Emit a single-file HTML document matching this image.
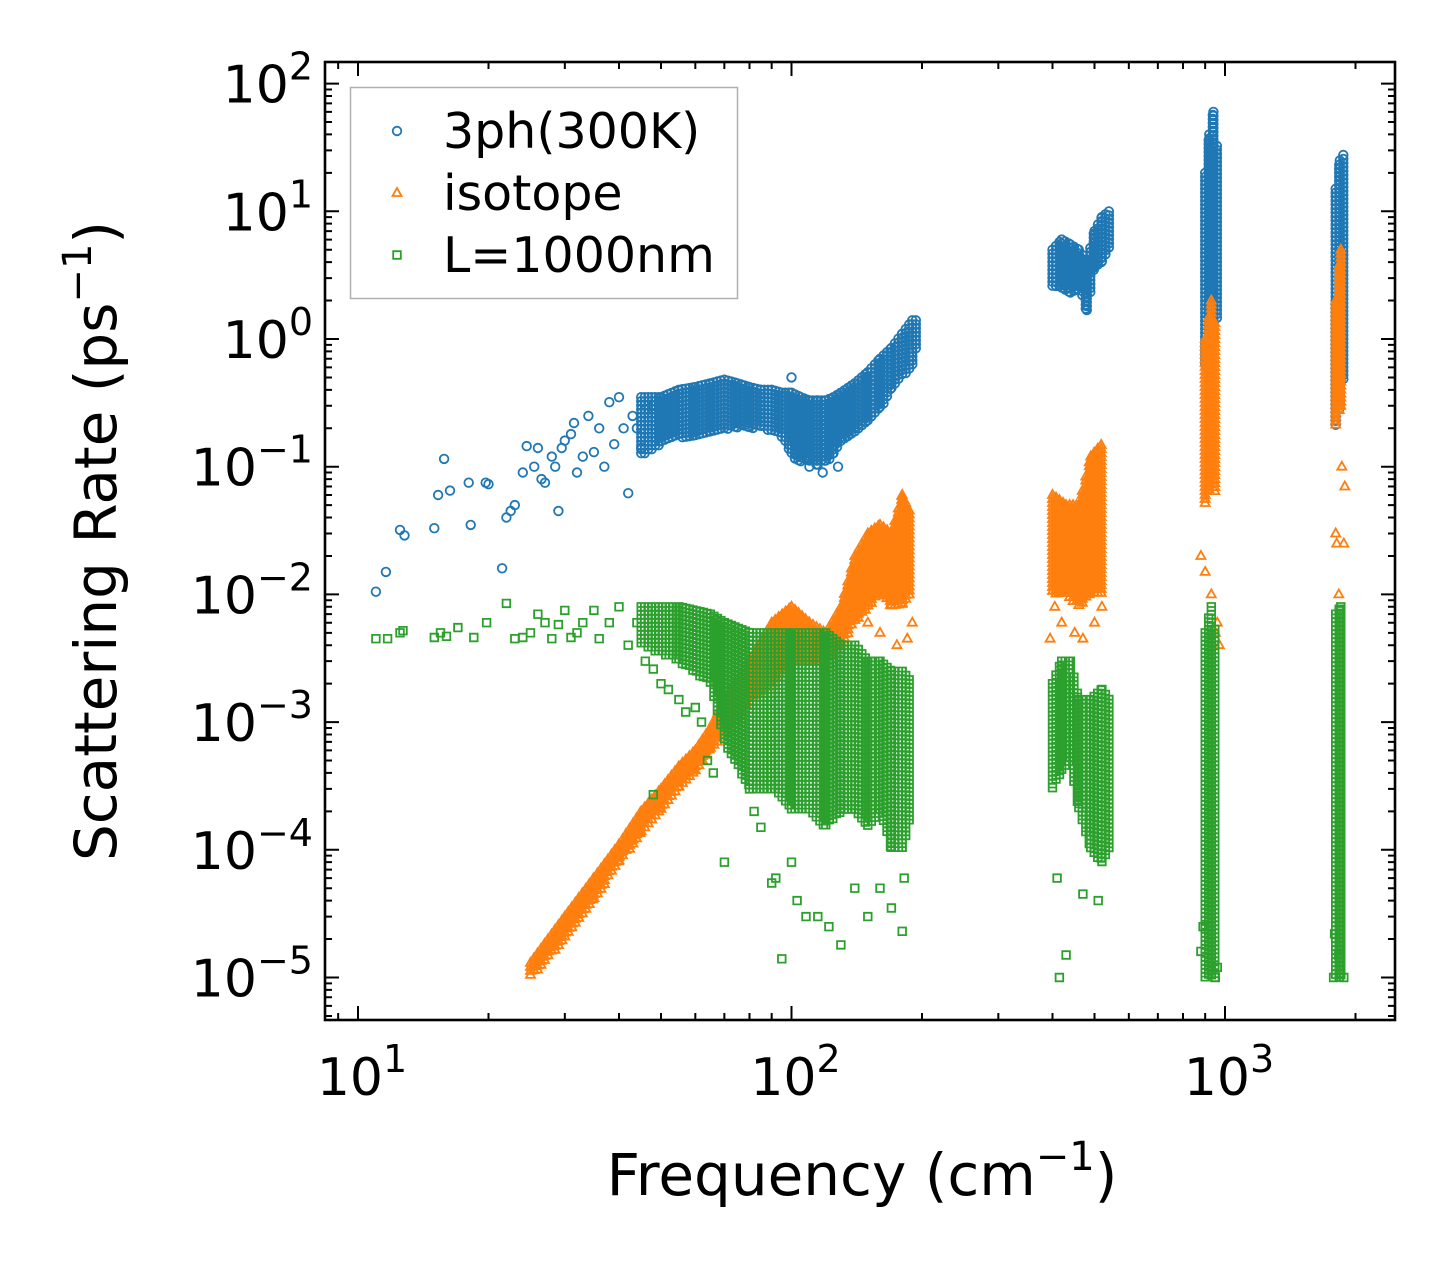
<!DOCTYPE html>
<html><head><meta charset="utf-8"><style>
html,body{margin:0;padding:0;background:#fff}
svg{display:block;font-family:"DejaVu Sans","Liberation Sans",sans-serif}
</style></head><body>
<svg id="chart" width="1455" height="1268" viewBox="0 0 1455 1268">
<rect x="0" y="0" width="1455" height="1268" fill="#fff"/>
<g id="marks"></g>
<g id="axes"></g>
</svg>
<script>
// ---- data ----
const blueFreq = [11,11.6,12.5,12.8,15,15.3,15.8,16.3,18,18.2,19.7,20,21.5,22,22.5,23,24,24.5,25.5,26,26.5,27,28,28.5,29,29.5,30,31,31.5,32,33,34,35,36,37,38,39,40,41,42,43,44,45,46,48,100,110,118,128];
const blueRate = [0.0105,0.015,0.032,0.029,0.033,0.06,0.115,0.065,0.075,0.035,0.075,0.073,0.016,0.04,0.045,0.05,0.09,0.145,0.1,0.14,0.08,0.075,0.12,0.1,0.045,0.14,0.16,0.18,0.22,0.09,0.12,0.25,0.13,0.2,0.1,0.32,0.15,0.35,0.2,0.062,0.25,0.2,0.14,0.28,0.3,0.5,0.1,0.09,0.1];
const blueBandFreq = [45,50,55,60,65,70,75,80,85,90,95,100,105,110,115,120,125,130,140,150,160,170,180,190,195, 400,420,440,460,480,500,520,540, 900,920,940,960, 1800,1840,1880];
const blueBandLo = [0.12,0.15,0.17,0.17,0.18,0.19,0.2,0.2,0.2,0.19,0.17,0.12,0.11,0.11,0.1,0.11,0.12,0.15,0.18,0.22,0.28,0.4,0.5,0.6,0.9, 2.5,2.5,2.2,2.5,1.6,3.5,4,5, 0.6,0.7,1,1.5, 0.2,0.3,0.5];
const blueBandHi = [0.35,0.35,0.4,0.42,0.45,0.48,0.45,0.42,0.4,0.4,0.38,0.38,0.35,0.33,0.33,0.33,0.35,0.38,0.45,0.55,0.7,0.85,1.1,1.4,1.4, 5,6,5.5,5,4,7,9,10, 20,40,60,30, 15,25,28];
const blueBreak = [25,33,37];

const orangeFreq = [150,160,175,185,190,395,405,420,450,470,500,520,880,900,930,950,960,970,1800,1810,1830,1860,1880,1890];
const orangeRate = [0.006,0.005,0.004,0.0045,0.006,0.0045,0.008,0.006,0.005,0.0045,0.006,0.008,0.02,0.015,0.01,0.005,0.006,0.004,0.03,0.025,0.01,0.1,0.025,0.07];
const orangeBandFreq = [25,30,35,40,45,50,55,60,65,70,80,90,100,110,120,130,140,150,160,170,180,190, 400,430,460,490,520, 900,930,960, 1800,1850,1880];
const orangeBandLo = [1e-5,2e-5,4e-5,8e-5,1.3e-4,2e-4,3e-4,4e-4,6e-4,8e-4,1.5e-3,2e-3,3e-3,3e-3,3e-3,4e-3,6e-3,8e-3,0.01,0.008,0.008,0.01, 0.01,0.01,0.008,0.01,0.01, 0.05,0.08,0.05, 0.2,0.3,0.3];
const orangeBandHi = [1.3e-5,3e-5,6e-5,1.1e-4,2e-4,3e-4,4.5e-4,6e-4,9e-4,1.5e-3,3e-3,6e-3,8e-3,6e-3,5e-3,8e-3,0.02,0.03,0.035,0.03,0.06,0.04, 0.06,0.05,0.05,0.12,0.15, 1,2,1, 2,5,3];
const orangeBreak = [22,27,30];

const greenFreq = [11,11.7,12.5,12.7,15,15.5,16,17,18.5,19.8,22,23,24,25,26,27,28,29,30,31,32,33,35,36,38,40,42,44,46,48,50,52,55,57,60,62,64,66,48,80,82,85,90,92,95,100,103,108,115,122,130,140,150,160,170,180,182,70,410,415,430,470,510,880,890,950,960,1780,1790,1830,1880];
const greenRate = [0.0045,0.0045,0.005,0.0052,0.0046,0.005,0.0047,0.0055,0.0046,0.006,0.0085,0.0045,0.0046,0.005,0.007,0.006,0.0045,0.0058,0.0075,0.0046,0.005,0.006,0.0075,0.0045,0.006,0.008,0.004,0.006,0.003,0.0026,0.002,0.0018,0.0015,0.0012,0.0013,0.001,0.0005,0.0004,0.00027,0.0003,0.0002,0.00015,5.5e-5,6e-5,1.4e-5,8e-5,4e-5,3e-5,3e-5,2.5e-5,1.8e-5,5e-5,3e-5,5e-5,3.5e-5,2.3e-5,6e-5,8e-5,6e-5,1e-5,1.5e-5,4.5e-5,4e-5,1.6e-5,2.5e-5,1e-5,1.2e-5,1e-5,2.2e-5,1.5e-5,1e-5];
const greenBandFreq = [45,55,65,70,80,90,100,110,120,130,140,150,160,170,180,190, 400,420,440,460,490,520,540, 900,930,960, 1800,1850,1880];
const greenBandLo = [0.004,0.003,0.002,0.0007,0.0003,0.0003,0.0002,0.0002,0.00015,0.0002,0.0002,0.00015,0.0002,0.0001,0.0001,0.0002, 3e-4,4e-4,5e-4,2e-4,1e-4,8e-5,1e-4, 1e-5,1e-5,1e-5, 1e-5,1e-5,1e-5];
const greenBandHi = [0.008,0.008,0.007,0.006,0.005,0.005,0.005,0.005,0.005,0.004,0.004,0.003,0.003,0.0025,0.0025,0.002, 2e-3,3e-3,3e-3,1.5e-3,1.5e-3,1.8e-3,1.5e-3, 0.005,0.008,0.004, 0.007,0.008,0.006];
const greenBreak = [16,23,26];

const xTickVals = [10,100,1000];
const xTickExp = ["1","2","3"];
const yTickVals = [100,10,1,0.1,0.01,0.001,1e-4,1e-5];
const yTickExp = ["2","1","0","\u22121","\u22122","\u22123","\u22124","\u22125"];

// ---- axes geometry ----
const L=325,R=1395,T=62,B=1020;
const xs = f => 358 + 433.5*(Math.log10(f)-1);
const ys = v => 339 - 127.7*Math.log10(v);
const NS="http://www.w3.org/2000/svg";
const marks=document.getElementById('marks'), axes=document.getElementById('axes');
function mk(tag,attrs,parent){const e=document.createElementNS(NS,tag);for(const k in attrs)e.setAttribute(k,attrs[k]);parent.appendChild(e);return e;}

function circ(x,y){const r=4.3;return `M${(x-r).toFixed(1)},${y.toFixed(1)}a${r},${r} 0 1,0 ${2*r},0a${r},${r} 0 1,0 ${-2*r},0`;}
function tri(x,y){const s=5;return `M${x.toFixed(1)},${(y-s).toFixed(1)}L${(x+s*0.9).toFixed(1)},${(y+s*0.6).toFixed(1)}L${(x-s*0.9).toFixed(1)},${(y+s*0.6).toFixed(1)}Z`;}
function sq(x,y){const s=3.8;return `M${(x-s).toFixed(1)},${(y-s).toFixed(1)}h${2*s}v${2*s}h${-2*s}Z`;}

function series(name,color,shape,fq,rt,bf,blo,bhi,brk){
  let d="";
  for(let i=0;i<fq.length;i++) d+=shape(xs(fq[i]),ys(rt[i]));
  const starts=[0,...brk], ends=[...brk,bf.length];
  for(let c=0;c<starts.length;c++){
    for(let i=starts[c];i<ends[c]-1;i++){
      const x0=xs(bf[i]),x1=xs(bf[i+1]);
      for(let x=x0;x<=x1;x+=3.5){
        const t=(x-x0)/(x1-x0||1);
        const yl=ys(blo[i])+(ys(blo[i+1])-ys(blo[i]))*t;
        const yh=ys(bhi[i])+(ys(bhi[i+1])-ys(bhi[i]))*t;
        for(let y=yh;y<=yl;y+=4) d+=shape(x,y);
      }
    }
    if(ends[c]-starts[c]===1){const i=starts[c];for(let y=ys(bhi[i]);y<=ys(blo[i]);y+=4)d+=shape(xs(bf[i]),y);}
  }
  const p=mk('path',{d:d,fill:'none',stroke:color,'stroke-width':1.8},marks);
  
  
}
const clip=mk('clipPath',{id:'pc'},mk('defs',{},document.getElementById('chart')));
mk('rect',{x:L,y:T,width:R-L,height:B-T},clip);
marks.setAttribute('clip-path','url(#pc)');
series('series-3ph-300k','#1f77b4',circ,blueFreq,blueRate,blueBandFreq,blueBandLo,blueBandHi,blueBreak);
series('series-isotope','#ff7f0e',tri,orangeFreq,orangeRate,orangeBandFreq,orangeBandLo,orangeBandHi,orangeBreak);
series('series-l-1000nm','#2ca02c',sq,greenFreq,greenRate,greenBandFreq,greenBandLo,greenBandHi,greenBreak);

const fr=mk('rect',{x:L,y:T,width:R-L,height:B-T,fill:'none',stroke:'#000','stroke-width':2.6},axes);


let td="";
for(let e=0;e<=3;e++)for(let m=1;m<10;m++){const x=xs(m*Math.pow(10,e));if(x<L||x>R)continue;const len=m===1?14:7;td+=`M${x},${B}v${-len}M${x},${T}v${len}`;}
for(let e=-6;e<=2;e++)for(let m=1;m<10;m++){const y=ys(m*Math.pow(10,e));if(y<T||y>B)continue;const len=m===1?14:7;td+=`M${L},${y}h${len}M${R},${y}h${-len}`;}
const tk=mk('path',{d:td,stroke:'#000','stroke-width':2,fill:'none'},axes);


xTickVals.forEach((v,i)=>{
  const t=mk('text',{x:xs(v)+4,y:1095,'text-anchor':'middle','font-size':52},axes);
  
  
  t.innerHTML=`10<tspan dy="-23" font-size="38">${xTickExp[i]}</tspan>`;
});
yTickVals.forEach((v,i)=>{
  const t=mk('text',{x:313,y:ys(v)+19,'text-anchor':'end','font-size':52},axes);
  
  
  t.innerHTML=`10<tspan dy="-23" font-size="38">${yTickExp[i]}</tspan>`;
});
const xt=mk('text',{x:862,y:1195,'text-anchor':'middle','font-size':58},axes);


xt.innerHTML='Frequency (cm<tspan dy="-25" font-size="40">\u22121</tspan><tspan dy="25">)</tspan>';
const yt=mk('text',{x:0,y:0,'text-anchor':'middle','font-size':58,transform:'translate(116,541) rotate(-90)'},axes);


yt.innerHTML='Scattering Rate (ps<tspan dy="-25" font-size="40">\u22121</tspan><tspan dy="25">)</tspan>';
const lg=mk('g',{},axes);


mk('rect',{x:350.5,y:87.5,width:387,height:211,fill:'#fff','fill-opacity':0.8,stroke:'#b0b0b0','stroke-width':1.5},lg);
const legNames=['3ph(300K)','isotope','L=1000nm'], legCol=['#1f77b4','#ff7f0e','#2ca02c'], legShape=[circ,tri,sq], legId=['legend-entry-3ph','legend-entry-isotope','legend-entry-l-1000nm'];
legNames.forEach((n,i)=>{
  const yy=131+i*62;
  const g=mk('g',{},lg);
  
  
  mk('path',{d:legShape[i](397,yy),fill:'none',stroke:legCol[i],'stroke-width':1.8},g);
  const t=mk('text',{x:443,y:yy+17,'font-size':49},g);
  t.textContent=n;
});
</script>
</body></html>
